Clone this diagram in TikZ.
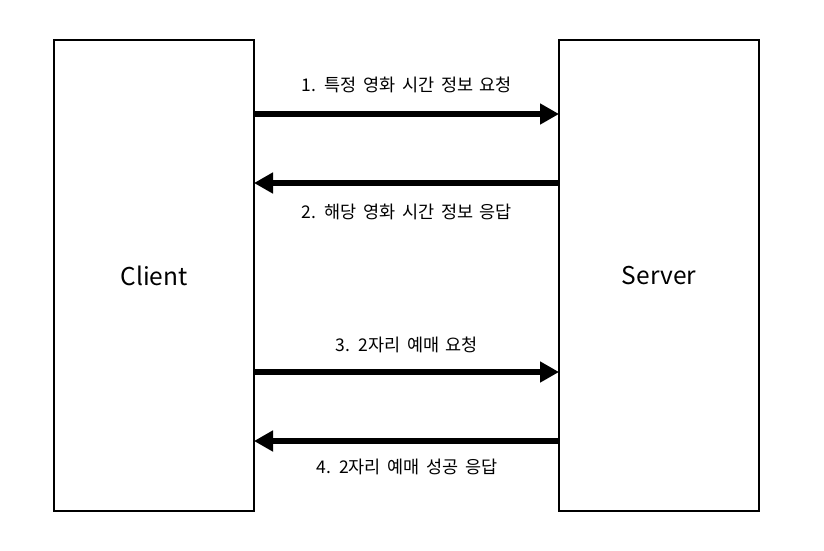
\documentclass[tikz,border=0pt]{standalone}
\usepackage{fontspec}
\setmainfont{Noto Sans CJK KR}
\newfontfamily\kr[WordSpace=1.7]{Noto Sans CJK KR}
\usetikzlibrary{arrows.meta}
\begin{document}
\begin{tikzpicture}[x=1pt,y=-1pt,
  party/.style={draw=black,line width=1.5pt,fill=white,minimum width=200pt,minimum height=471pt,inner sep=0pt,font=\fontsize{24.5}{29}\selectfont},
  msg/.style={line width=6pt,-{Triangle[length=19pt,width=20pt]}},
  lbl/.style={font=\kr\fontsize{17.5}{21}\selectfont,inner sep=0pt}]
\useasboundingbox (0,0) rectangle (824,550);
\node[party] (client) at (154,275.5) {Client};
\node[party] (server) at (659,275.5) {Server};
\coordinate (c1) at (254,114); \coordinate (s1) at (559,114);
\coordinate (c2) at (254,183); \coordinate (s2) at (559,183);
\coordinate (c3) at (254,372); \coordinate (s3) at (559,372);
\coordinate (c4) at (254,441); \coordinate (s4) at (559,441);
\draw[msg] (c1) -- (s1);
\draw[msg] (s2) -- (c2);
\draw[msg] (c3) -- (s3);
\draw[msg] (s4) -- (c4);
\node[lbl] (l1) at (407,85) {1. 특정 영화 시간 정보 요청};
\node[lbl] (l2) at (407,212) {2. 해당 영화 시간 정보 응답};
\node[lbl] (l3) at (407,345) {3. 2자리 예매 요청};
\node[lbl] (l4) at (407,467) {4. 2자리 예매 성공 응답};
\end{tikzpicture}
\end{document}
